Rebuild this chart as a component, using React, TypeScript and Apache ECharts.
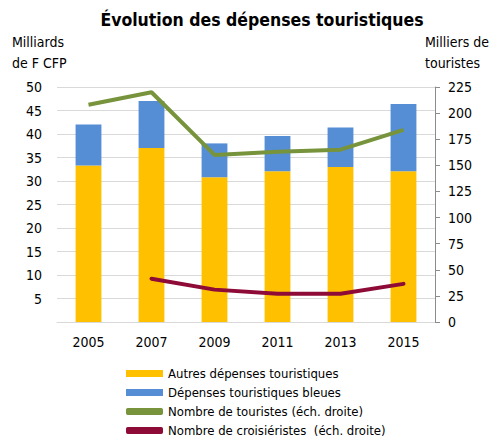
import React, { useEffect, useRef } from "react";
import * as echarts from "echarts";

const years = ["2005", "2007", "2009", "2011", "2013", "2015"];
const autresDepenses = [33.3, 37.0, 30.8, 32.1, 33.0, 32.1];
const depensesBleues = [8.7, 10.0, 7.2, 7.5, 8.4, 14.3];
const nbTouristes = [208, 220, 160, 163, 165, 184];
const nbCroisieristes = [null, 41.5, 31, 27, 27, 36.5];

const FONT = "'DejaVu Sans Condensed', 'DejaVu Sans', sans-serif";

export default function App() {
  const ref = useRef<HTMLDivElement>(null);
  useEffect(() => {
    const chart = echarts.init(ref.current!, null, { renderer: "svg" });
    chart.setOption({
      animation: false,
      textStyle: { fontFamily: FONT, color: "#000" },
      title: {
        text: "Évolution des dépenses touristiques",
        left: 257,
        textAlign: "center",
        top: 6,
        textStyle: { fontFamily: FONT, fontSize: 17.5, fontWeight: "bold", color: "#000" },
      },
      graphic: [
        { type: "text", left: 12, top: 35, style: { text: "Milliards", fontFamily: FONT, fontSize: 14, fill: "#000" } },
        { type: "text", left: 12, top: 56, style: { text: "de F CFP", fontFamily: FONT, fontSize: 14, fill: "#000" } },
        { type: "text", left: 425, top: 35, style: { text: "Milliers de", fontFamily: FONT, fontSize: 14, fill: "#000" } },
        { type: "text", left: 425, top: 56, style: { text: "touristes", fontFamily: FONT, fontSize: 14, fill: "#000" } },
      ],
      legend: {
        orient: "vertical",
        left: 126,
        top: 366,
        height: 90,
        itemWidth: 37,
        itemHeight: 7,
        itemGap: 4,
        padding: 0,
        textStyle: { fontFamily: FONT, fontSize: 13, color: "#000", lineHeight: 15 },
        data: [
          { name: "Autres dépenses touristiques", icon: "rect" },
          { name: "Dépenses touristiques bleues", icon: "rect" },
          { name: "Nombre de touristes (éch. droite)", icon: "roundRect" },
          { name: "Nombre de croisiéristes  (éch. droite)", icon: "roundRect" },
        ],
      },
      grid: { left: 57, right: 61, top: 87, bottom: 118 },
      xAxis: {
        type: "category",
        data: years,
        axisLine: { lineStyle: { color: "#D9D9D9", width: 1 } },
        axisTick: { show: false },
        axisLabel: { fontFamily: FONT, fontSize: 14, color: "#000", margin: 13 },
      },
      yAxis: [
        {
          type: "value",
          min: 0,
          max: 50,
          interval: 5,
          axisLine: { show: false },
          axisTick: { show: false },
          axisLabel: {
            fontFamily: FONT,
            fontSize: 14,
            color: "#000",
            margin: 15,
            formatter: (v: number) => (v === 0 ? "" : String(v)),
          },
          splitLine: { lineStyle: { color: "#D9D9D9", width: 1 } },
        },
        {
          type: "value",
          min: 0,
          max: 225,
          interval: 25,
          position: "right",
          axisLine: { show: true, lineStyle: { color: "#8C8C8C", width: 1 } },
          axisTick: { show: true, length: 5, lineStyle: { color: "#8C8C8C" } },
          axisLabel: { fontFamily: FONT, fontSize: 14, color: "#000", margin: 13 },
          splitLine: { show: false },
        },
      ],
      series: [
        {
          name: "Autres dépenses touristiques",
          type: "bar",
          stack: "dep",
          data: autresDepenses,
          barWidth: "41%",
          itemStyle: { color: "#FFC000" },
        },
        {
          name: "Dépenses touristiques bleues",
          type: "bar",
          stack: "dep",
          data: depensesBleues,
          barWidth: "41%",
          itemStyle: { color: "#558ED5" },
        },
        {
          name: "Nombre de touristes (éch. droite)",
          type: "line",
          yAxisIndex: 1,
          data: nbTouristes,
          symbol: "none",
          lineStyle: { color: "#77933C", width: 4 },
          itemStyle: { color: "#77933C" },
        },
        {
          name: "Nombre de croisiéristes  (éch. droite)",
          type: "line",
          yAxisIndex: 1,
          data: nbCroisieristes,
          symbol: "none",
          lineStyle: { color: "#8E0B38", width: 4, cap: "round" },
          itemStyle: { color: "#8E0B38" },
        },
      ],
    });
    return () => chart.dispose();
  }, []);
  return <div ref={ref} style={{ width: 496, height: 440, position: "absolute", left: 0, top: 0 }} />;
}
